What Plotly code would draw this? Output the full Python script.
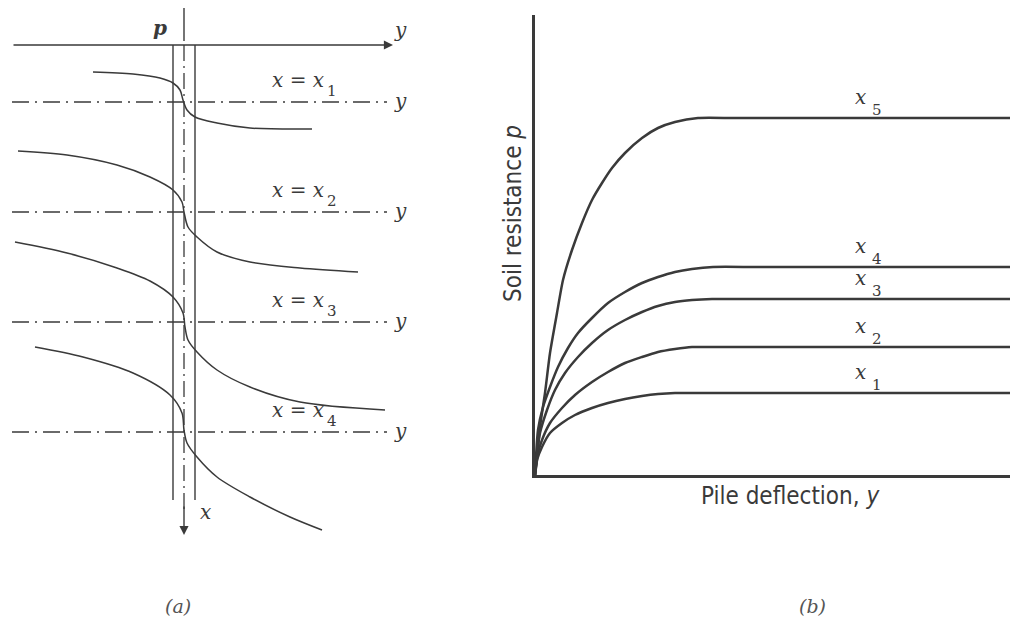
import plotly.graph_objects as go

INK = "#3a3a3a"
SERIF = "DejaVu Serif"
SANS = "DejaVu Sans Condensed, Liberation Sans Narrow, Liberation Sans, sans-serif"

# ---------------- (a) pile with p-y curves at several depths ----------------
# lateral offset from pile axis (u) and depth below ground (d), schematic units
depth_levels = [5.7, 16.7, 27.7, 38.7]
level_names = ["1", "2", "3", "4"]

a1_u = [-9.1, -5.1, -2.4, -1.1, -0.4, -0.1, 0.3, 1.1, 3.3, 6.6, 12.8]
a1_d = [2.7, 2.9, 3.3, 3.8, 4.5, 5.5, 6.5, 7.2, 7.8, 8.3, 8.4]
a2_u = [-16.6, -11.7, -6.7, -3.4, -1.1, -0.2, 0.0, 0.4, 1.3, 3.3, 6.6, 11.6, 17.4]
a2_d = [10.6, 11.0, 12.0, 13.2, 14.5, 15.7, 16.7, 18.2, 19.2, 20.7, 21.7, 22.3, 22.7]
a3_u = [-16.9, -11.7, -6.7, -3.4, -1.1, -0.1, 0.1, 0.4, 1.3, 3.3, 6.6, 11.6, 20.1]
a3_d = [19.7, 20.8, 22.3, 23.6, 25.2, 26.8, 28.2, 29.5, 30.7, 32.5, 34.2, 35.7, 36.5]
a4_u = [-14.9, -10.1, -5.1, -1.4, -0.2, 0.0, 0.3, 1.3, 3.3, 6.6, 10.6, 13.8]
a4_d = [30.2, 31.2, 32.8, 35.0, 36.8, 38.5, 39.8, 41.2, 43.2, 45.2, 47.2, 48.5]

pile_half_width = 1.1
pile_bottom = 45.5
axis_top = -3.7
axis_arrow_tip = 49.0
ground_left, ground_right = -17.2, 20.9
level_right = 20.3

# ---------------- (b) p-y curves, soil resistance vs pile deflection ----------------
b_names = ["5", "4", "3", "2", "1"]
b_defl = [
    [0, 0.2, 0.5, 1.0, 1.5, 2.2, 2.8, 3.7, 4.7, 5.7, 6.7, 7.7, 9.0, 10.7, 12.3, 14.0, 16.3,
     20.0, 30.0, 40.0, 47.5],
    [0, 0.3, 0.8, 1.5, 2.3, 3.3, 4.3, 5.7, 7.3, 9.0, 10.7, 12.3, 14.0, 15.7, 17.8,
     22.0, 30.0, 40.0, 47.5],
    [0, 0.2, 0.5, 1.2, 2.0, 3.0, 4.3, 5.7, 7.3, 9.0, 10.7, 12.3, 14.0, 15.7, 17.7,
     22.0, 30.0, 40.0, 47.5],
    [0, 0.2, 0.7, 1.5, 2.7, 4.0, 5.7, 7.3, 9.0, 10.7, 12.3, 14.0, 15.7, 17.7,
     22.0, 30.0, 40.0, 47.5],
    [0, 0.2, 0.7, 1.5, 2.7, 4.0, 5.7, 7.3, 9.0, 10.7, 12.3, 14.0, 16.0, 18.0,
     22.0, 30.0, 40.0, 47.5],
]
b_res = [
    [0, 1.5, 4.8, 8.2, 12.2, 16.2, 19.5, 22.5, 25.2, 27.5, 29.2, 30.7, 32.2, 33.7, 34.7, 35.3, 35.7,
     35.7, 35.7, 35.7, 35.7],
    [0, 4.5, 6.8, 8.8, 10.8, 12.7, 14.2, 15.7, 17.2, 18.3, 19.2, 19.8, 20.3, 20.6, 20.8,
     20.8, 20.8, 20.8, 20.8],
    [0, 2.2, 4.2, 6.5, 8.5, 10.2, 11.8, 13.2, 14.5, 15.5, 16.3, 16.9, 17.3, 17.5, 17.6,
     17.6, 17.6, 17.6, 17.6],
    [0, 1.8, 3.5, 5.2, 6.7, 8.0, 9.3, 10.3, 11.2, 11.8, 12.3, 12.6, 12.8, 12.8,
     12.8, 12.8, 12.8, 12.8],
    [0, 1.5, 2.8, 4.2, 5.2, 6.0, 6.7, 7.2, 7.6, 7.9, 8.1, 8.2, 8.2, 8.2,
     8.2, 8.2, 8.2, 8.2],
]
b_label_defl = 32.5
b_sub_defl = 34.2

fig = go.Figure()

thin = dict(color=INK, width=1.4)

# pile walls
for s in (-pile_half_width, pile_half_width):
    fig.add_trace(go.Scatter(x=[s, s], y=[0, pile_bottom], mode="lines",
                             line=thin, xaxis="x", yaxis="y", hoverinfo="skip"))
# pile axis above ground (solid) and along the pile (dash-dot)
fig.add_trace(go.Scatter(x=[0, 0], y=[axis_top, -0.4], mode="lines",
                         line=thin, xaxis="x", yaxis="y", hoverinfo="skip"))
fig.add_trace(go.Scatter(x=[0, 0], y=[0, 46.5], mode="lines",
                         line=dict(color=INK, width=1.3, dash="16px,5px,2px,5px"),
                         xaxis="x", yaxis="y", hoverinfo="skip"))
# depth reference lines
for lv in depth_levels:
    fig.add_trace(go.Scatter(x=[ground_left, level_right], y=[lv, lv], mode="lines",
                             line=dict(color=INK, width=1.3, dash="17px,6px,2px,6px"),
                             xaxis="x", yaxis="y", hoverinfo="skip"))
# p-y curves drawn at each depth
for uu, dd in [(a1_u, a1_d), (a2_u, a2_d), (a3_u, a3_d), (a4_u, a4_d)]:
    fig.add_trace(go.Scatter(x=uu, y=dd, mode="lines",
                             line=dict(color=INK, width=1.5, shape="spline", smoothing=0.9),
                             xaxis="x", yaxis="y", hoverinfo="skip"))

# p-y curves in panel (b)
for xx, yy in zip(b_defl, b_res):
    fig.add_trace(go.Scatter(x=xx, y=yy, mode="lines",
                             line=dict(color=INK, width=2.5, shape="spline", smoothing=0.6),
                             xaxis="x2", yaxis="y2", hoverinfo="skip"))

ann = []
ital = dict(family=SERIF, size=20, color=INK, style="italic")
ital_sub = dict(family=SERIF, size=15, color=INK)

# ground line with arrow and pile-axis arrow
ann.append(dict(x=ground_right, y=0, ax=ground_left, ay=0, xref="x", yref="y",
                axref="x", ayref="y", text="", showarrow=True, arrowhead=2,
                arrowsize=1.3, arrowwidth=1.4, arrowcolor=INK))
ann.append(dict(x=0, y=axis_arrow_tip, ax=0, ay=46.0, xref="x", yref="y",
                axref="x", ayref="y", text="", showarrow=True, arrowhead=2,
                arrowsize=1.3, arrowwidth=1.4, arrowcolor=INK))
ann.append(dict(x=21.6, y=-1.5, xref="x", yref="y", text="y", showarrow=False, font=ital))
ann.append(dict(x=-2.4, y=-1.7, xref="x", yref="y", text="<b>p</b>", showarrow=False, font=ital))
ann.append(dict(x=2.1, y=46.7, xref="x", yref="y", text="x", showarrow=False, font=ital))
for lv, nm in zip(depth_levels, level_names):
    ann.append(dict(x=21.6, y=lv, xref="x", yref="y", text="y", showarrow=False,
                    font=ital, yshift=1))
    ann.append(dict(x=11.4, y=lv, xref="x", yref="y", text="x = x", showarrow=False,
                    font=ital, yshift=22))
    ann.append(dict(x=14.8, y=lv, xref="x", yref="y", text=nm, showarrow=False,
                    font=ital_sub, yshift=11))

# curve labels in panel (b)
for yy, nm in zip(b_res, b_names):
    lv = yy[-1]
    ann.append(dict(x=b_label_defl, y=lv, xref="x2", yref="y2", text="x", showarrow=False,
                    font=ital, yshift=21))
    ann.append(dict(x=b_sub_defl, y=lv, xref="x2", yref="y2", text=nm, showarrow=False,
                    font=ital_sub, yshift=8))

# axis titles of panel (b)
ann.append(dict(x=513 / 1010, y=1 - 214 / 628, xref="paper", yref="paper",
                xanchor="center", yanchor="middle",
                text="Soil resistance <i>p</i>", textangle=-90, showarrow=False,
                font=dict(family=SANS, size=24, color=INK)))
ann.append(dict(x=790 / 1010, y=1 - 496 / 628, xref="paper", yref="paper",
                xanchor="center", yanchor="middle",
                text="Pile deflection, <i>y</i>", showarrow=False,
                font=dict(family=SANS, size=24, color=INK)))

# panel captions
cap = dict(family=SERIF, size=19, color="#555", style="italic")
ann.append(dict(x=178 / 1010, y=1 - 606 / 628, xref="paper", yref="paper", text="(a)",
                xanchor="center", yanchor="middle", showarrow=False, font=cap))
ann.append(dict(x=812 / 1010, y=1 - 606 / 628, xref="paper", yref="paper", text="(b)",
                xanchor="center", yanchor="middle", showarrow=False, font=cap))

hidden = dict(visible=False, showgrid=False, zeroline=False)
fig.update_layout(
    width=1010, height=628, autosize=False,
    margin=dict(l=0, r=0, t=0, b=0),
    paper_bgcolor="white", plot_bgcolor="white",
    showlegend=False,
    xaxis=dict(domain=[0, 420 / 1010], range=[-18.4, 23.6], **hidden),
    yaxis=dict(domain=[0, 1], range=[58.3, -4.5], **hidden),
    xaxis2=dict(domain=[535 / 1010, 1], range=[0, 47.5], showgrid=False, zeroline=False,
                showticklabels=False, ticks="", showline=True, linewidth=3,
                linecolor=INK, anchor="y2"),
    yaxis2=dict(domain=[1 - 475 / 628, 1 - 15 / 628], range=[0, 46], showgrid=False,
                zeroline=False, showticklabels=False, ticks="", showline=True,
                linewidth=3, linecolor=INK, anchor="x2"),
    annotations=ann,
)

fig.write_html("out.html")
